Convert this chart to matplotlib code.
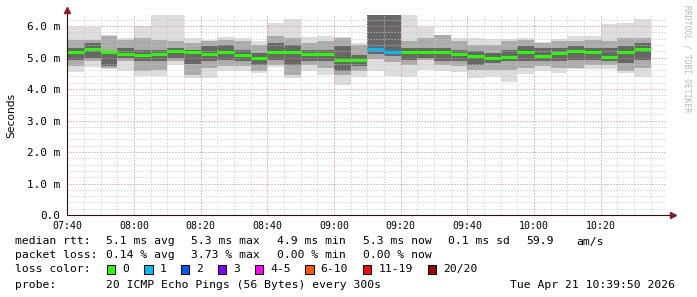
import matplotlib
matplotlib.use('Agg')
import matplotlib.pyplot as plt
import matplotlib.dates as mdates
import matplotlib.ticker as mticker
from matplotlib.patches import Rectangle
import numpy as np
import pandas as pd

# one smokeping bar every 5 minutes, 20 pings each (values in ms)
slots = pd.date_range('2026-04-21 07:40', periods=35, freq='5min')
rtt_min = [4.55, 4.71, 4.63, 4.57, 4.42, 4.42, 4.76, 4.36, 4.35, 4.57, 4.57, 4.50,
           4.71, 4.36, 4.57, 4.44, 4.13, 4.39, 4.58, 4.40, 4.39, 4.60, 4.58, 4.55,
           4.34, 4.39, 4.22, 4.47, 4.57, 4.52, 4.63, 4.63, 4.63, 4.52, 4.39]
rtt_max = [5.98, 5.98, 5.71, 5.61, 6.00, 6.40, 6.40, 5.61, 5.56, 5.64, 5.61, 5.52,
           6.11, 6.21, 5.66, 5.68, 5.64, 5.45, 6.40, 6.40, 6.40, 5.98, 5.71, 5.63,
           5.63, 5.58, 5.58, 5.61, 5.50, 5.58, 5.68, 5.68, 6.06, 6.11, 6.21]
mid_lo = [4.73, 4.88, 4.67, 4.88, 4.56, 4.61, 4.88, 4.45, 4.67, 4.72, 4.72, 4.56,
          4.77, 4.45, 4.77, 4.67, 4.45, 4.56, 4.95, 4.85, 4.75, 4.93, 4.77, 4.72,
          4.61, 4.61, 4.61, 4.67, 4.72, 4.67, 4.67, 4.77, 4.77, 4.56, 4.67]
mid_hi = [5.57, 5.57, 5.67, 5.57, 5.62, 5.57, 5.51, 5.46, 5.51, 5.57, 5.51, 5.41,
          5.67, 5.62, 5.46, 5.51, 5.62, 5.40, 6.40, 6.40, 5.51, 5.62, 5.72, 5.51,
          5.41, 5.41, 5.51, 5.57, 5.46, 5.51, 5.51, 5.57, 5.51, 5.62, 5.62]
core_lo = [4.93, 4.98, 4.73, 4.98, 4.88, 4.88, 4.98, 4.78, 4.88, 4.93, 4.88, 4.77,
           4.93, 4.77, 4.88, 4.88, 4.56, 4.72, 5.10, 5.04, 4.93, 4.98, 4.88, 4.88,
           4.77, 4.83, 4.88, 4.88, 4.88, 4.88, 4.93, 4.93, 4.88, 4.83, 4.93]
core_hi = [5.30, 5.46, 5.14, 5.30, 5.25, 5.25, 5.30, 5.25, 5.36, 5.41, 5.25, 5.14,
           5.46, 5.41, 5.25, 5.25, 5.36, 5.09, 6.40, 6.40, 5.30, 5.30, 5.30, 5.25,
           5.20, 5.14, 5.25, 5.36, 5.30, 5.30, 5.36, 5.30, 5.30, 5.36, 5.46]
median = [5.17, 5.27, 5.16, 5.11, 5.07, 5.11, 5.21, 5.18, 5.10, 5.17, 5.08, 4.98,
          5.17, 5.17, 5.10, 5.12, 4.91, 4.91, 5.26, 5.16, 5.16, 5.18, 5.16, 5.12,
          5.06, 5.00, 5.02, 5.17, 5.04, 5.14, 5.21, 5.17, 5.03, 5.17, 5.28]
loss = [0]*18 + [1, 1] + [0]*15

loss_labels = ['0', '1', '2', '3', '4-5', '6-10', '11-19', '20/20']
loss_colors = ['#26ff00', '#00b8ff', '#0059ff', '#7e00ff', '#ff00ff', '#ff5500', '#ff0000', '#a10000']

W, H = 697, 297
fig = plt.figure(figsize=(W/100, H/100), dpi=100)
fig.patch.set_facecolor('white')
ax = fig.add_axes([66.7/W, (H-215)/H, 600/W, 200/H])

x = mdates.date2num(slots.to_pydatetime())
w = 5/1440.
lo = np.array(rtt_min)
ax.bar(x, np.array(rtt_max)-lo, bottom=lo, width=w, align='edge', color='#dddddd', linewidth=0)
ax.bar(x, np.array(mid_hi)-np.array(mid_lo), bottom=mid_lo, width=w, align='edge', color='#ababab', linewidth=0)
ax.bar(x, np.array(core_hi)-np.array(core_lo), bottom=core_lo, width=w, align='edge', color='#676767', linewidth=0)
ax.hlines(median, x, x+w, colors=[loss_colors[l] for l in loss], linewidth=2.2, zorder=3)

t0 = mdates.date2num(pd.Timestamp('2026-04-21 07:39:50').to_pydatetime())
t1 = mdates.date2num(pd.Timestamp('2026-04-21 10:39:50').to_pydatetime())
ax.set_xlim(t0, t1)
ax.set_ylim(0, 6.35)

ax.xaxis.set_major_locator(mdates.MinuteLocator(byminute=[0, 20, 40]))
ax.xaxis.set_minor_locator(mdates.MinuteLocator(byminute=range(0, 60, 5)))
ax.xaxis.set_major_formatter(mdates.DateFormatter('%H:%M'))
ax.yaxis.set_major_locator(mticker.MultipleLocator(1.0))
ax.yaxis.set_minor_locator(mticker.MultipleLocator(0.2))
ax.yaxis.set_major_formatter(mticker.FuncFormatter(lambda v, p: '0.0' if v == 0 else '%.1f m' % v))

ax.set_axisbelow(False)
ax.grid(which='minor', color='#c8c8c8', linestyle=(0, (1, 2)), linewidth=0.72)
ax.grid(which='major', color='#e08080', linestyle=(0, (1, 2)), linewidth=0.72)
ax.tick_params(which='both', length=0)
ax.tick_params(axis='x', pad=4, labelsize=7.1)
ax.tick_params(axis='y', pad=5, labelsize=7.9)
for lab in ax.get_xticklabels() + ax.get_yticklabels():
    lab.set_family('DejaVu Sans Mono')

for s in ['top', 'right']:
    ax.spines[s].set_visible(False)
for s in ['left', 'bottom']:
    ax.spines[s].set_color('#3a0a0a')
    ax.spines[s].set_linewidth(0.8)
    ax.spines[s].set_zorder(4)
ax.plot([0, 0], [1, 1.015], transform=ax.transAxes, color='#3a0a0a', lw=0.8, clip_on=False)
ax.plot([1, 1.006], [0, 0], transform=ax.transAxes, color='#3a0a0a', lw=0.8, clip_on=False)
ax.plot([0], [1.025], marker='^', ms=4, color='#8b1a1a', transform=ax.transAxes, clip_on=False)
ax.plot([1.01], [0], marker='>', ms=4, color='#8b1a1a', transform=ax.transAxes, clip_on=False)

def fx(px):
    return px / W

def fy(py):
    return 1 - py / H

fig.text(fx(11), fy(115), 'Seconds', rotation=90, ha='center', va='center', fontsize=7.7)
fig.text(fx(687), fy(5), 'RRDTOOL / TOBI OETIKER', rotation=-90, ha='center', va='top',
         fontsize=5.8, color='#b8b8b8', family='DejaVu Sans Mono')

mono = dict(family='DejaVu Sans Mono', fontsize=8.2, va='center', ha='left')
rows = [
    (241.5, [(15.2, 'median rtt:'), (106.4, '5.1 ms avg'), (190.9, '5.3 ms max'), (277.2, '4.9 ms min'),
             (363.0, '5.3 ms now'), (448.4, '0.1 ms sd'), (526.7, '59.9'), (575.9, 'am/s')]),
    (255.5, [(15.2, 'packet loss:'), (106.4, '0.14 % avg'), (190.9, '3.73 % max'), (277.2, '0.00 % min'),
             (363.0, '0.00 % now')]),
    (269.0, [(15.2, 'loss color:')]),
    (284.5, [(15.2, 'probe:'), (106.4, '20 ICMP Echo Pings (56 Bytes) every 300s'),
             (510.4, 'Tue Apr 21 10:39:50 2026')]),
]
for yy, items in rows:
    for xx, txt in items:
        fig.text(fx(xx), fy(yy), txt, **mono)

box_x = [106.8, 144.0, 180.7, 217.9, 254.6, 305.0, 363.0, 427.6]
for bx, lab, col in zip(box_x, loss_labels, loss_colors):
    fig.patches.append(Rectangle((fx(bx), fy(273.5)), 8.5/W, 8.5/H, transform=fig.transFigure,
                                 facecolor=col, edgecolor='black', linewidth=0.7))
    fig.text(fx(bx + 15.5), fy(269.0), lab, **mono)

fig.savefig('out.png', dpi=100)
